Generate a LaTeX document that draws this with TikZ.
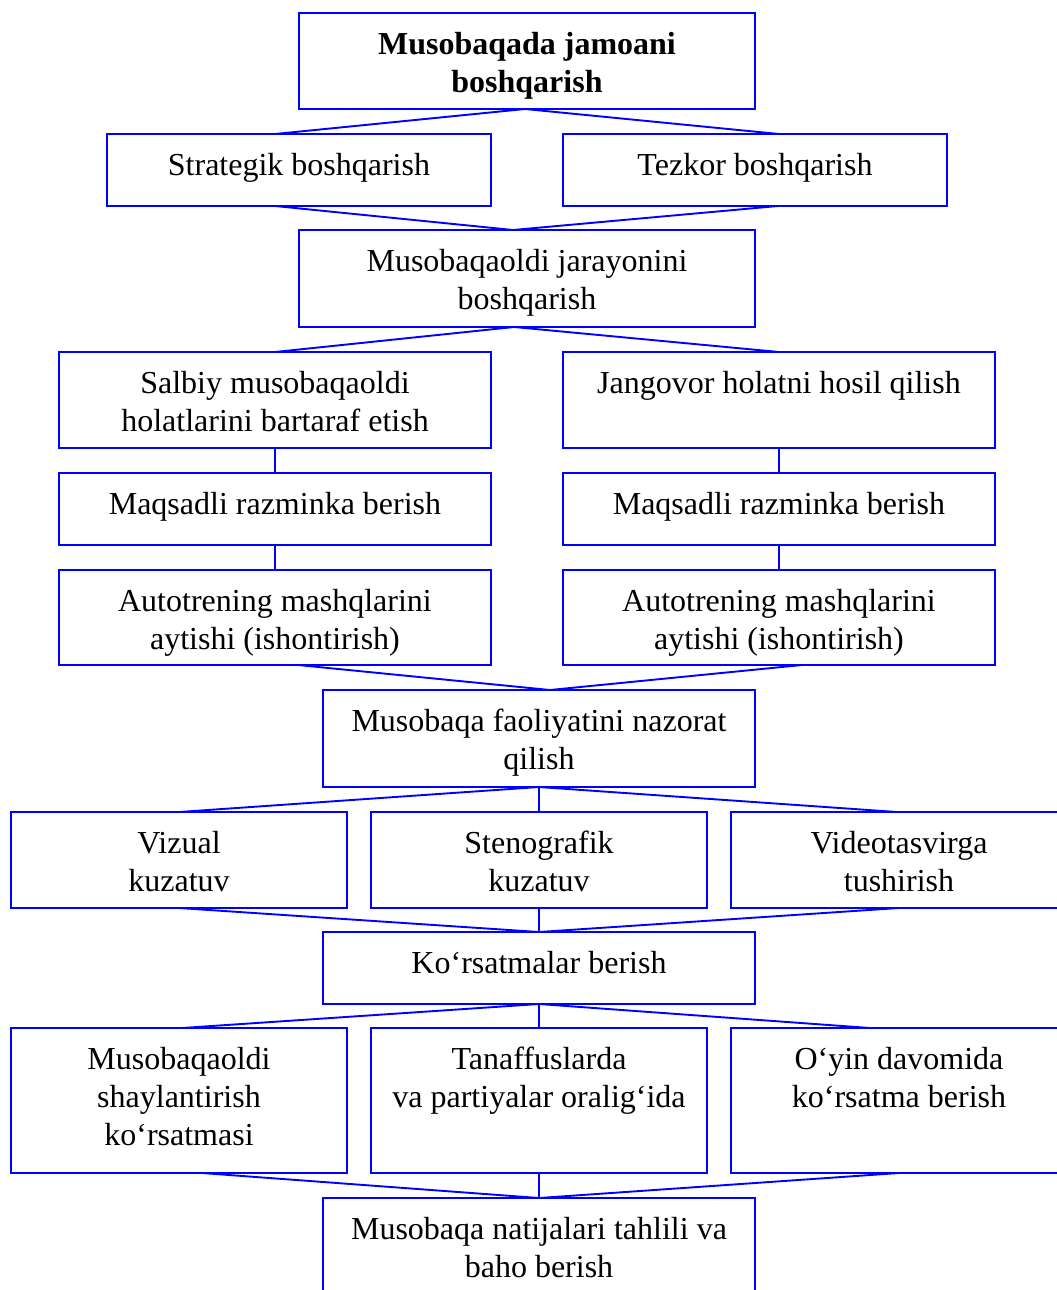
\documentclass[tikz,border=0pt]{standalone}
\usepackage{fontspec}
\setmainfont{Liberation Serif}
\usetikzlibrary{calc}
\newcommand{\bxt}[3]{\parbox[c][#2pt][t]{#1pt}{\centering\fontsize{32}{38}\selectfont\vspace*{14.5pt}#3}}
\tikzset{
  box/.style={draw=blue, line width=2.1pt, inner sep=0pt, outer sep=0pt, anchor=north west},
  conn/.style={draw=blue, line width=1.9pt}
}
\begin{document}
\begin{tikzpicture}[x=1pt,y=-1pt]
\clip (0,0) rectangle (1057,1290);
\fill[white] (0,0) rectangle (1057,1290);
% row 1
\node[box] (b1) at (299,13) {\bxt{456}{96}{\strut\textbf{Musobaqada jamoani}\strut\\\strut\textbf{boshqarish}\strut}};
% row 2
\node[box] (s1) at (107,134) {\bxt{384}{72}{\strut Strategik boshqarish\strut}};
\node[box] (s2) at (563,134) {\bxt{384}{72}{\strut Tezkor boshqarish\strut}};
% row 3
\node[box] (b3) at (299,230) {\bxt{456}{97}{\strut Musobaqaoldi jarayonini\strut\\\strut boshqarish\strut}};
% rows 4-6
\node[box] (r4l) at (59,352) {\bxt{432}{96}{\strut Salbiy musobaqaoldi\strut\\\strut holatlarini bartaraf etish\strut}};
\node[box] (r4r) at (563,352) {\bxt{432}{96}{\strut Jangovor holatni hosil qilish\strut}};
\node[box] (r5l) at (59,473) {\bxt{432}{72}{\strut Maqsadli razminka berish\strut}};
\node[box] (r5r) at (563,473) {\bxt{432}{72}{\strut Maqsadli razminka berish\strut}};
\node[box] (r6l) at (59,570) {\bxt{432}{95}{\strut Autotrening mashqlarini\strut\\\strut aytishi (ishontirish)\strut}};
\node[box] (r6r) at (563,570) {\bxt{432}{95}{\strut Autotrening mashqlarini\strut\\\strut aytishi (ishontirish)\strut}};
% row 7
\node[box] (b7) at (323,690) {\bxt{432}{97}{\strut Musobaqa faoliyatini nazorat\strut\\\strut qilish\strut}};
% row 8
\node[box] (r8a) at (11,812) {\bxt{336}{96}{\strut Vizual\strut\\\strut kuzatuv\strut}};
\node[box] (r8b) at (371,812) {\bxt{336}{96}{\strut Stenografik\strut\\\strut kuzatuv\strut}};
\node[box] (r8c) at (731,812) {\bxt{336}{96}{\strut Videotasvirga\strut\\\strut tushirish\strut}};
% row 9
\node[box] (b9) at (323,932) {\bxt{432}{72}{\strut Ko‘rsatmalar berish\strut}};
% row 10
\node[box] (r10a) at (11,1028) {\bxt{336}{145}{\strut Musobaqaoldi\strut\\\strut shaylantirish\strut\\\strut ko‘rsatmasi\strut}};
\node[box] (r10b) at (371,1028) {\bxt{336}{145}{\strut Tanaffuslarda\strut\\\strut va partiyalar oralig‘ida\strut}};
\node[box] (r10c) at (731,1028) {\bxt{336}{145}{\strut O‘yin davomida\strut\\\strut ko‘rsatma berish\strut}};
% row 11
\node[box] (b11) at (323,1198) {\bxt{432}{120}{\strut Musobaqa natijalari tahlili va\strut\\\strut baho berish\strut}};
% connectors
\draw[conn] ($(s1.north)+(-24,0)$) -- ($(b1.south)+(-2,0)$) -- ($(s2.north)+(24,0)$);
\draw[conn] ($(s1.south)+(-24,0)$) -- ($(b3.north)+(-14,0)$) -- ($(s2.south)+(23,0)$);
\draw[conn] (r4l.north) -- ($(b3.south)+(-13,0)$) -- (r4r.north);
\draw[conn] (r4l.south) -- (r5l.north);
\draw[conn] (r5l.south) -- (r6l.north);
\draw[conn] (r4r.south) -- (r5r.north);
\draw[conn] (r5r.south) -- (r6r.north);
\draw[conn] ($(r6l.south)+(23,0)$) -- ($(b7.north)+(11,0)$) -- ($(r6r.south)+(23,0)$);
\draw[conn] (r8a.north) -- (b7.south) -- ($(r8c.north)+(-2,0)$);
\draw[conn] (b7.south) -- (r8b.north);
\draw[conn] (r8a.south) -- (b9.north) -- (r8c.south);
\draw[conn] (r8b.south) -- (b9.north);
\draw[conn] ($(r10a.north)+(3,0)$) -- (b9.south) -- ($(r10c.north)+(-29,0)$);
\draw[conn] (b9.south) -- (r10b.north);
\draw[conn] ($(r10a.south)+(23,0)$) -- (b11.north) -- (r10c.south);
\draw[conn] (r10b.south) -- (b11.north);
\end{tikzpicture}
\end{document}
